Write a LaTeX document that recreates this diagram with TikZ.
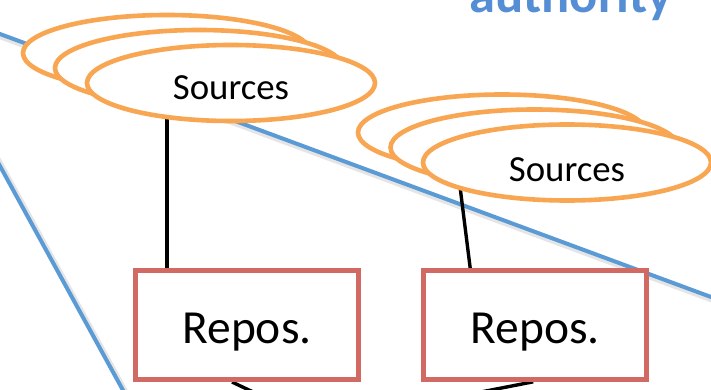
\documentclass[tikz,border=0pt]{standalone}
\usepackage{fontspec}
\setmainfont{Carlito}
\usetikzlibrary{shapes.geometric,calc,backgrounds}
\definecolor{srcorange}{RGB}{248,166,82}
\definecolor{repored}{RGB}{208,106,99}
\definecolor{lineblue}{RGB}{91,155,213}
\definecolor{authblue}{RGB}{85,142,213}
\begin{document}
\begin{tikzpicture}[x=1pt,y=-1pt,
  src/.style={ellipse, draw=srcorange, line width=4.6pt, fill=white,
    minimum width=288pt, minimum height=76pt, inner sep=0pt},
  srctext/.style={font=\fontsize{36.8}{40}\selectfont, anchor=base, inner sep=0pt},
  repo/.style={rectangle, draw=repored, line width=4.6pt, fill=white,
    minimum width=223pt, minimum height=109pt, inner sep=0pt},
  repotext/.style={font=\fontsize{47.5}{50}\selectfont, anchor=base, inner sep=0pt},
  authtext/.style={font=\fontsize{52.5}{55}\selectfont\bfseries, text=authblue, anchor=base, inner sep=0pt},
  link/.style={draw=black, line width=3.4pt},
  bound/.style={draw=lineblue, line width=4pt},
  boundshadow/.style={draw=black!10, line width=5.5pt},
]
\useasboundingbox (0,0) rectangle (711,390);
\clip (0,0) rectangle (711,390);

% title fragment
\node[authtext] (auth) at (571,13) {authority};

% sources groups
\node[src] (s1c) at (167,53) {};
\node[src] (s1b) at (199,68) {};
\node[src] (s1) at (231,83) {};
\node[srctext] (t1) at ($(s1.center)+(0,17)$) {Sources};

\node[src] (s2c) at (502,132.5) {};
\node[src] (s2b) at (534.5,147.5) {};
\node[src] (s2) at (567,162.5) {};
\node[srctext] (t2) at ($(s2.center)+(0,18.5)$) {Sources};

% repositories
\node[repo] (b1) at (247,325.2) {};
\node[repotext] (r1) at ($(b1.center)+(0,18)$) {Repos.};
\node[repo] (b2) at (535.2,325) {};
\node[repotext] (r2) at ($(b2.center)+(0,18)$) {Repos.};

\coordinate (bA) at (-20,26.6);
\coordinate (bB) at (731,304.4);
\coordinate (bC) at (-10,147.8);
\coordinate (bD) at (130,403);
\coordinate (d1) at (270,400);
\coordinate (d2) at (440,400);

\begin{scope}[on background layer]
  \clip (0,0) rectangle (711,390);
  \fill[white] (0,0) rectangle (711,390);
  \draw[boundshadow] ($(bA)+(1.5,3)$) -- ($(bB)+(1.5,3)$);
  \draw[boundshadow] ($(bC)+(2.5,1.5)$) -- ($(bD)+(2.5,1.5)$);
  \draw[bound] (bA) -- (bB);
  \draw[bound] (bC) -- (bD);
  \draw[link] ($(b1.north)+(-80,0)$) -- ($(s1.center)+(-64,0)$);
  \draw[link] ($(b2.north)+(-65,0)$) -- ($(s2.center)+(-110,0)$);
  \draw[link] ($(b1.south)+(-15,0)$) -- (d1);
  \draw[link] ($(b2.south)+(-2,0)$) -- (d2);
\end{scope}
\end{tikzpicture}
\end{document}
